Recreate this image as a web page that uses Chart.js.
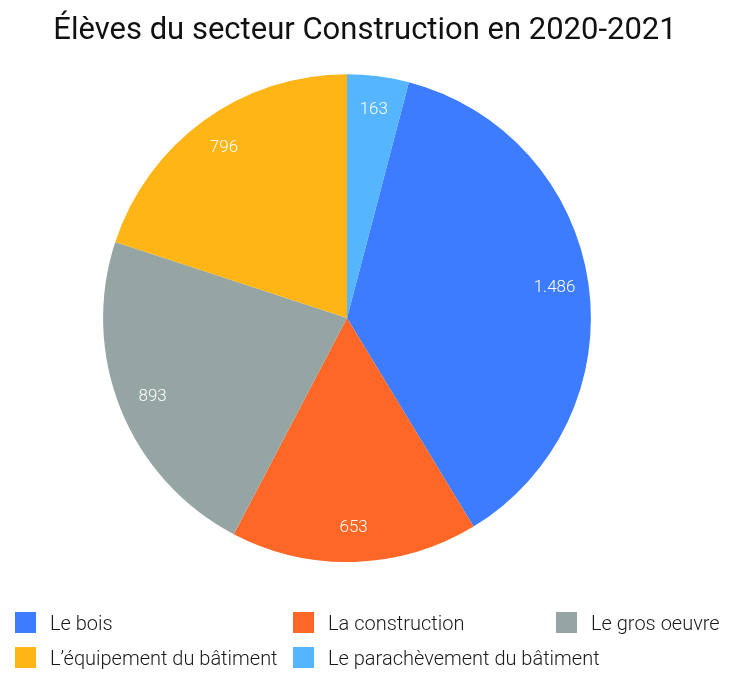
<!DOCTYPE html>
<html>
<head>
<meta charset="utf-8">
<script src="https://cdn.jsdelivr.net/npm/chart.js@4.4.0/dist/chart.umd.min.js"></script>
<style>
  html, body { margin: 0; padding: 0; background: #fff; }
  #wrap { position: relative; width: 730px; height: 683px; }
  #legend {
    position: absolute; left: 15px; top: 612px;
    display: grid; grid-template-columns: 278px 263px auto; row-gap: 14px;
    font-family: Roboto, sans-serif; font-weight: 300; font-size: 20px; color: #1a1a1a;
  }
  .item { display: flex; align-items: center; height: 21px; white-space: nowrap; }
  .box { width: 21px; height: 21px; margin-right: 14px; flex: none; }
</style>
</head>
<body>
<div id="wrap">
  <canvas id="pieChart" width="730" height="683"></canvas>
  <div id="legend"></div>
</div>
<script>
// Élèves par secteur (2020-2021)
const categories = ['Le bois', 'La construction', 'Le gros oeuvre', 'L’équipement du bâtiment', 'Le parachèvement du bâtiment'];
const eleves = [1486, 653, 893, 796, 163];
const colors = ['#3d7bff', '#ff6726', '#95a5a3', '#ffb515', '#55b5ff'];

const total = eleves.reduce((a, b) => a + b, 0);
// the last slice sits just right of 12 o'clock
const rotation = eleves[eleves.length - 1] / total * 360;

// pie is a bit left of the page centre, the title is not
const shiftPie = {
    id: 'shiftPie',
    afterLayout(chart) {
        chart.chartArea.left -= 18;
        chart.chartArea.right -= 18;
    }
};

// white numbers inside the slices
const sliceLabels = {
    id: 'sliceLabels',
    afterDatasetsDraw(chart) {
        const ctx = chart.ctx;
        ctx.save();
        ctx.fillStyle = '#fff';
        ctx.font = '300 17px Roboto, sans-serif';
        ctx.textAlign = 'center';
        ctx.textBaseline = 'middle';
        chart.getDatasetMeta(0).data.forEach((arc, i) => {
            const mid = (arc.startAngle + arc.endAngle) / 2;
            const r = arc.outerRadius * 0.86;
            const x = arc.x + Math.cos(mid) * r;
            const y = arc.y + Math.sin(mid) * r;
            ctx.fillText(eleves[i].toLocaleString('de-DE'), x, y);
        });
        ctx.restore();
    }
};

const ctx = document.getElementById('pieChart').getContext('2d');
new Chart(ctx, {
    type: 'pie',
    data: {
        labels: categories,
        datasets: [{
            data: eleves,
            backgroundColor: colors,
            borderWidth: 0
        }]
    },
    options: {
        responsive: false,
        animation: false,
        rotation: rotation,
        layout: { padding: { top: 0, bottom: 121, left: 0, right: 0 } },
        plugins: {
            legend: { display: false },
            tooltip: { enabled: false },
            title: {
                display: true,
                text: 'Élèves du secteur Construction en 2020-2021',
                color: '#111',
                font: { family: 'Roboto, sans-serif', size: 31, weight: 'normal', lineHeight: 1.2 },
                padding: { top: 13, bottom: 24 }
            }
        }
    },
    plugins: [shiftPie, sliceLabels]
});

// legend below the pie, three columns
const legend = document.getElementById('legend');
categories.forEach((name, i) => {
    const item = document.createElement('div');
    item.className = 'item';
    item.innerHTML = '<span class="box" style="background:' + colors[i] + '"></span>' + name;
    legend.appendChild(item);
});
</script>
</body>
</html>
